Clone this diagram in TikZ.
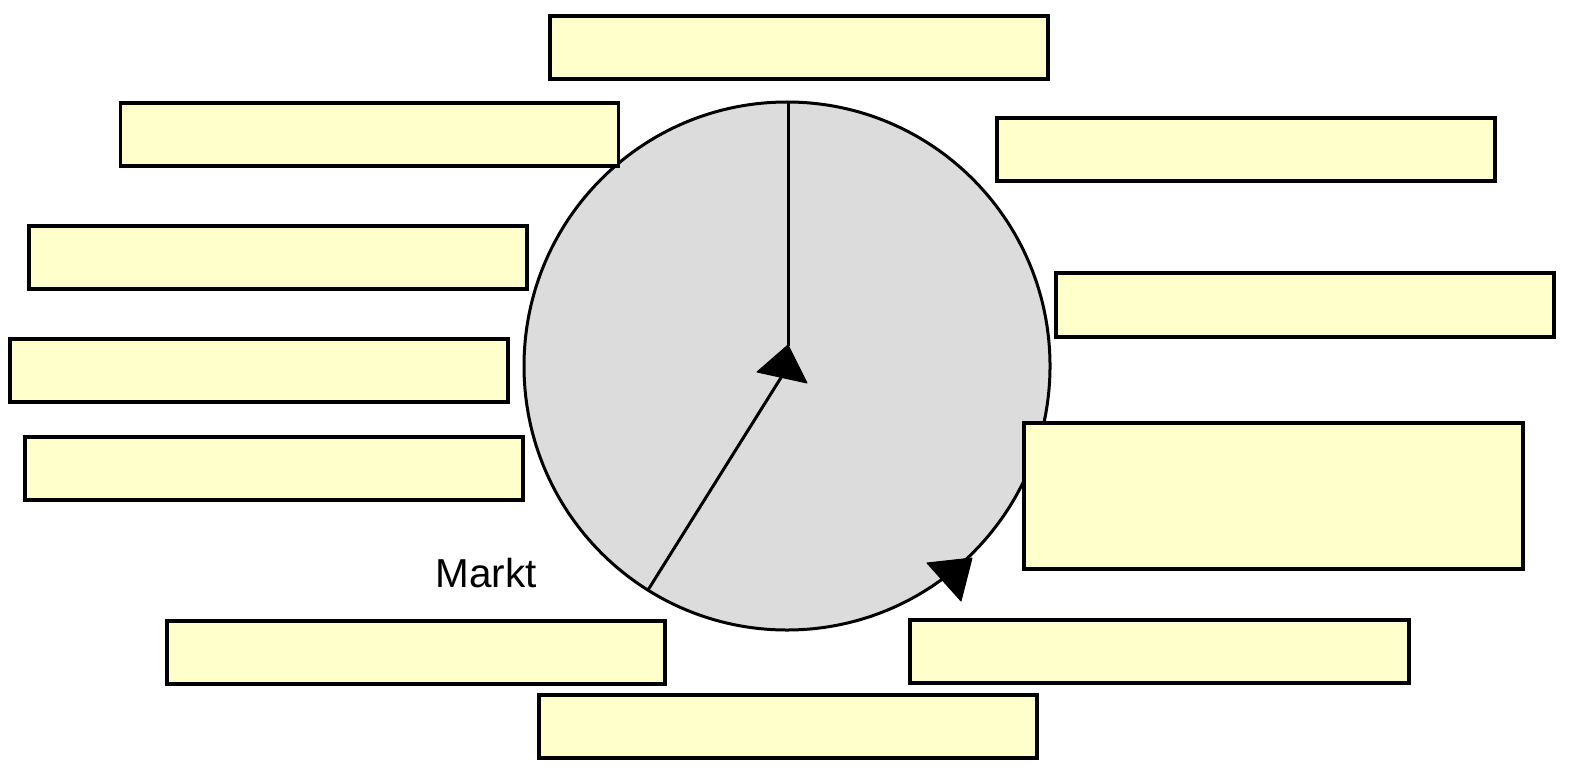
\documentclass[tikz,border=0pt]{standalone}
\usepackage{fontspec}
\setmainfont{Liberation Sans}
\begin{document}
\begin{tikzpicture}[x=0.01cm,y=-0.01cm,
  box/.style={draw=black,fill=boxyellow,line width=0.036cm,minimum width=4.98cm,minimum height=0.63cm,inner sep=0pt,rectangle},
  ring/.style={draw=black,fill=ringgray,line width=0.03cm},
  spoke/.style={draw=black,line width=0.03cm},
  head/.style={fill=black,draw=black,line width=0.01cm,line join=round}]
\definecolor{boxyellow}{HTML}{FFFFCC}
\definecolor{ringgray}{HTML}{DCDCDC}
\useasboundingbox (0,0) rectangle (1571,779);
% wheel
\coordinate (c) at (787,366);
\draw[ring] (c) ellipse [x radius=263, y radius=264];
\coordinate (top) at (788,102);
\coordinate (topin) at (788,346);
\coordinate (low) at (648,590);
\coordinate (lowin) at (782,376);
\draw[spoke] (top) -- (topin);
\draw[spoke] (low) -- (lowin);
\fill[head] (807,383) -- (757,372) -- (788,345) -- cycle;
\fill[head] (927,563) -- (972,558) -- (961,601) -- cycle;
% label
\node[font=\fontsize{11.5pt}{13pt}\selectfont,inner sep=0pt] (markt) at (486,573) {Markt};
% boxes
\node[box] (b1) at (799,47.5) {};
\node[box] (b2) at (369.5,134.5) {};
\node[box] (b3) at (1246,149.5) {};
\node[box] (b4) at (278,257.5) {};
\node[box,minimum height=0.64cm] (b5) at (1305,305) {};
\node[box] (b6) at (259,370.5) {};
\node[box] (b7) at (274,468.5) {};
\node[box,minimum width=4.99cm,minimum height=1.46cm] (b8) at (1273.5,496) {};
\node[box] (b9) at (416,652.5) {};
\node[box,minimum width=4.99cm] (b10) at (1159.5,651.5) {};
\node[box] (b11) at (788,726.5) {};
\end{tikzpicture}
\end{document}
